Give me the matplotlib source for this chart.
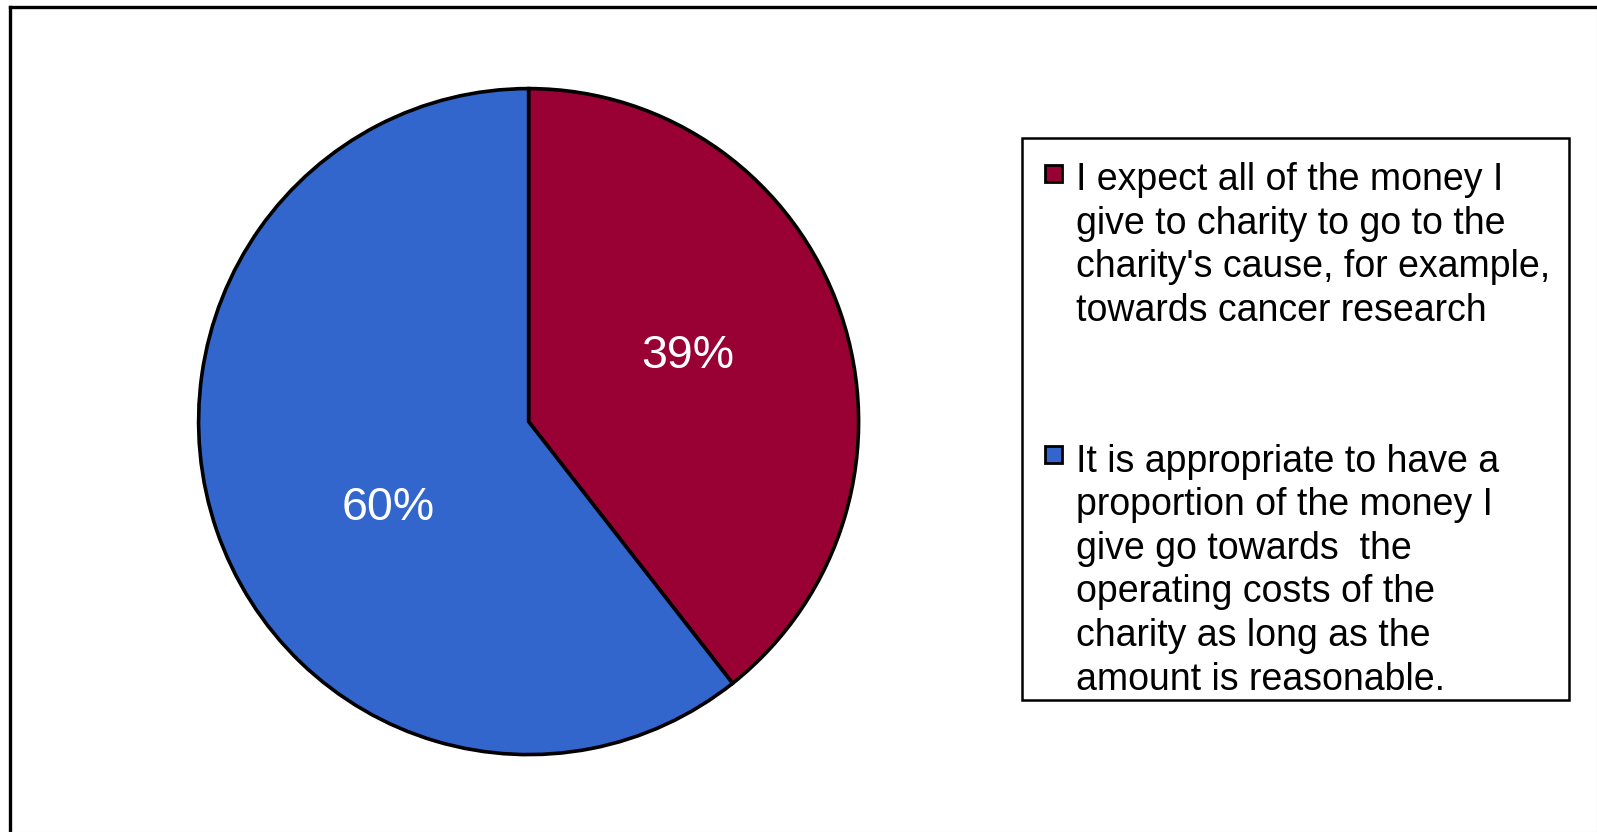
import matplotlib
matplotlib.use("Agg")
import matplotlib.pyplot as plt
from matplotlib.patches import Rectangle
from matplotlib.lines import Line2D

plt.rcParams["font.family"] = ["Liberation Sans", "DejaVu Sans"]

# survey answers, percent of respondents
answers = [
    "I expect all of the money I\ngive to charity to go to the\ncharity's cause, for example,\ntowards cancer research",
    "It is appropriate to have a\nproportion of the money I\ngive go towards  the\noperating costs of the\ncharity as long as the\namount is reasonable.",
]
shares = [39, 60]
colors = ["#990033", "#3366CC"]

W, H = 1597, 832
fig = plt.figure(figsize=(W / 100, H / 100), dpi=100)


def fx(px):
    return px / W


def fy(py):
    # pixel rows are counted from the top
    return 1 - py / H


# pie area: centre (528.6, 421.6), radii in px
cx, cy, rx, ry = 528.6, 421.6, 330, 333
ax = fig.add_axes([fx(cx - rx), fy(cy + ry), fx(2 * rx), 2 * ry / H])
wedges, _, pct = ax.pie(
    shares,
    colors=colors,
    startangle=90,
    counterclock=False,
    autopct="%d%%",
    wedgeprops=dict(edgecolor="black", linewidth=2.6),
    textprops=dict(color="white", fontsize=33.5),
)
ax.set_aspect("auto")
ax.set_xlim(-1, 1)
ax.set_ylim(-1, 1)
for w in wedges:
    w.set_clip_on(False)
# data labels sit a little off the wedge bisectors
pct[0].set_position((0.483, 0.196))
pct[1].set_position((-0.427, -0.26))
for t in pct:
    t.set_va("center")
    t.set_ha("center")

# legend box drawn by hand so every line can be placed
fig.add_artist(Rectangle((fx(1021.6), fy(699.7)), fx(1568.5 - 1021.6), (699.7 - 137.5) / H,
                         transform=fig.transFigure, facecolor="white",
                         edgecolor="black", linewidth=1.8))
line_gap = 43.6
first_base = [190.0, 471.7]
for label, col, base in zip(answers, colors, first_base):
    fig.add_artist(Rectangle((fx(1044.5), fy(base - 8.5)), fx(17), 17 / H,
                             transform=fig.transFigure, facecolor=col,
                             edgecolor="black", linewidth=2.0))
    for i, line in enumerate(label.split("\n")):
        fig.text(fx(1076.5), fy(base + i * line_gap), line, fontsize=27,
                 ha="left", va="baseline")

# outer chart border
fig.add_artist(Line2D([fx(9.5), fx(1596)], [fy(6.5), fy(6.5)], transform=fig.transFigure,
                      color="black", linewidth=2.4))
fig.add_artist(Line2D([fx(9.5), fx(9.5)], [fy(6.5), fy(832)], transform=fig.transFigure,
                      color="black", linewidth=2.4))
fig.add_artist(Line2D([fx(1596.5), fx(1596.5)], [fy(6.5), fy(832)], transform=fig.transFigure,
                      color="#AAAAAA", linewidth=0.8))
fig.add_artist(Line2D([fx(9.5), fx(1597)], [fy(831.5), fy(831.5)], transform=fig.transFigure,
                      color="#E6E6E6", linewidth=0.8))

fig.savefig("out.png", dpi=100)
